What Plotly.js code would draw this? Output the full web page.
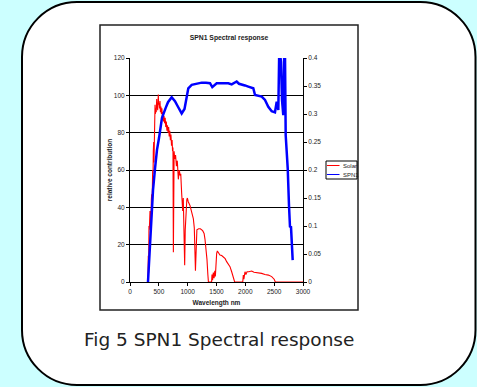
<!DOCTYPE html>
<html>
<head>
<meta charset="utf-8">
<script src="https://cdn.plot.ly/plotly-3.0.1.min.js"></script>
<style>
  html, body { margin: 0; padding: 0; background: #CCFFFF; }
  #chart { width: 477px; height: 387px; }
</style>
</head>
<body>
<div id="chart"></div>
<script>
// ---- Data ----
const solarWl = [300, 310, 317, 323, 329, 335, 347, 355, 364, 370, 376, 385, 393, 400, 404, 411, 416, 421, 428, 434, 440, 446, 455, 463, 468, 473, 480, 486, 491, 497,
  505, 512, 520, 528, 536, 545, 553, 562, 570, 580, 590, 600, 610, 620, 630, 640, 650, 660, 670, 680, 690, 700, 710, 720, 730, 738, 745, 752, 758, 765,
  775, 790, 805, 820, 838, 855, 870, 880, 895, 914, 924, 935, 948, 958, 971, 985, 995, 1010, 1040, 1070, 1098, 1115, 1125, 1135, 1145, 1160, 1190, 1220, 1260, 1285,
  1300, 1320, 1335, 1350, 1360, 1415, 1422, 1432, 1445, 1458, 1470, 1480, 1492, 1503, 1515, 1530, 1560, 1590, 1618, 1650, 1676, 1705, 1734, 1763, 1790, 1815,
  1955, 1965, 1975, 1985, 1994, 2010, 2030, 2060, 2110, 2150, 2200, 2283, 2340, 2400, 2457, 2500, 2520, 3000];
const solarVal = [0, 0, 14, 5, 30, 28, 38, 33, 31, 44, 47, 45, 60, 58, 70, 75, 64, 86, 82, 95, 90, 93, 91, 98, 93, 95, 92, 97, 100.5, 95,
  96, 93, 97, 91, 94, 90, 93, 88, 91, 86, 89, 85, 88, 83, 86, 81, 84, 80, 83, 78, 81, 76, 79, 73, 76, 70, 72, 16, 52, 70,
  66, 68, 62, 65, 55, 60, 57, 58, 48, 38, 45, 32, 9, 28, 38, 44, 45, 43, 41, 37.7, 34, 29, 18, 6, 15, 28, 28.5, 28.5, 27.5, 26,
  23, 18, 12, 4, 0, 0, 4, 1, 5, 2, 6, 3, 12, 15.4, 16.6, 16, 14.5, 14.2, 13.6, 12.5, 10.9, 9.5, 8.2, 5.5, 3, 0,
  0, 3.7, 1.5, 4.5, 5.5, 4, 5.5, 5.5, 5.9, 5.2, 5, 4.6, 4, 3.7, 2.9, 1.5, 0, 0];

const spn1Wl = [312, 318, 321, 347, 376, 399, 434, 468, 503, 555, 619, 659, 723, 780, 832, 896, 945, 983, 1011, 1070, 1144, 1243, 1318, 1387, 1427, 1503, 1595, 1705, 1763, 1803,
  1850, 1890, 1937, 1994, 2051, 2138, 2168, 2284, 2341, 2398, 2457, 2514, 2544, 2558, 2572, 2589, 2618, 2636, 2658, 2676, 2688, 2700, 2735, 2757, 2774, 2792, 2804, 2821];
const spn1Val = [0.000, 0.012, 0.025, 0.066, 0.120, 0.164, 0.203, 0.236, 0.257, 0.293, 0.311, 0.321, 0.330, 0.323, 0.313, 0.301, 0.309, 0.328, 0.346, 0.352, 0.354, 0.356, 0.356, 0.355, 0.348, 0.355, 0.355, 0.355, 0.353, 0.356,
  0.358, 0.354, 0.353, 0.351, 0.349, 0.346, 0.334, 0.331, 0.325, 0.313, 0.305, 0.303, 0.322, 0.311, 0.307, 0.42, 0.393, 0.325, 0.298, 0.42, 0.405, 0.262, 0.203, 0.137, 0.099, 0.098, 0.072, 0.039];

const leftTicks = [0, 20, 40, 60, 80, 100, 120];
const rightTicks = [0, 0.05, 0.1, 0.15, 0.2, 0.25, 0.3, 0.35, 0.4];
const rightTickText = ['0', '0.05', '0.1', '0.15', '0.2', '0.25', '0.3', '0.35', '0.4'];
const xTicks = [0, 500, 1000, 1500, 2000, 2500, 3000];
const seriesNames = ['Solar', 'SPN1'];

// ---- Layout geometry (pixels) ----
const W = 477, H = 387;
const M = { l: 130, r: 174, t: 58, b: 105 };
const PW = W - M.l - M.r, PH = H - M.t - M.b;
const px = x => (x - M.l) / PW;
const py = y => (H - M.b - y) / PH;

function roundRectPath(L, T, R, B, r) {
  const k = 0.5523 * r;
  const p = (x, y) => px(x).toFixed(5) + ',' + py(y).toFixed(5);
  return 'M' + p(L + r, T) + ' L' + p(R - r, T) +
    ' C' + p(R - r + k, T) + ' ' + p(R, T + r - k) + ' ' + p(R, T + r) +
    ' L' + p(R, B - r) +
    ' C' + p(R, B - r + k) + ' ' + p(R - r + k, B) + ' ' + p(R - r, B) +
    ' L' + p(L + r, B) +
    ' C' + p(L + r - k, B) + ' ' + p(L, B - r + k) + ' ' + p(L, B - r) +
    ' L' + p(L, T + r) +
    ' C' + p(L, T + r - k) + ' ' + p(L + r - k, T) + ' ' + p(L + r, T) + ' Z';
}

const chartFont = 'Liberation Sans, Arial, sans-serif';

const traces = [
  { x: solarWl, y: solarVal, name: seriesNames[0], type: 'scatter', mode: 'lines',
    line: { color: '#FF0000', width: 1.1 }, yaxis: 'y', showlegend: false },
  { x: spn1Wl, y: spn1Val, name: seriesNames[1], type: 'scatter', mode: 'lines',
    line: { color: '#0000FF', width: 2.5 }, yaxis: 'y2', showlegend: false }
];

const layout = {
  width: W, height: H,
  margin: M,
  paper_bgcolor: '#CCFFFF',
  plot_bgcolor: 'rgba(0,0,0,0)',
  showlegend: false,
  font: { family: chartFont, size: 6.5, color: '#222' },
  title: { text: '<b>SPN1 Spectral response</b>', font: { family: chartFont, size: 6.8, color: '#222' },
    xref: 'container', yref: 'container', x: 229 / W, y: 1 - 37.7 / H, xanchor: 'center', yanchor: 'middle' },
  xaxis: {
    range: [0, 3000], tickvals: xTicks, ticks: 'outside', ticklen: 3, tickcolor: '#000',
    showgrid: false, zeroline: false, showline: true, linecolor: '#000', linewidth: 1,
    tickfont: { family: chartFont, size: 6.5, color: '#222' },
    title: { text: '<b>Wavelength nm</b>', font: { family: chartFont, size: 6.5, color: '#222' }, standoff: 6 }
  },
  yaxis: {
    range: [0, 120], tickvals: leftTicks, ticks: 'outside', ticklen: 3, tickcolor: '#000',
    showgrid: true, gridcolor: '#000', gridwidth: 1, zeroline: false, showline: true, linecolor: '#000', linewidth: 1,
    tickfont: { family: chartFont, size: 6.5, color: '#222' },
    title: { text: '<b>relative contribution</b>', font: { family: chartFont, size: 6.5, color: '#222' }, standoff: 0 }
  },
  yaxis2: {
    range: [0, 0.4], tickvals: rightTicks, ticktext: rightTickText, overlaying: 'y', side: 'right',
    ticks: 'outside', ticklen: 3, tickcolor: '#000',
    showgrid: false, zeroline: false, showline: true, linecolor: '#000', linewidth: 1,
    tickfont: { family: chartFont, size: 6.5, color: '#222' }
  },
  shapes: [
    { type: 'path', xref: 'paper', yref: 'paper', layer: 'below',
      path: roundRectPath(22, 2, 475.5, 385, 55),
      fillcolor: '#FFFFFF', line: { color: '#000', width: 2 } },
    { type: 'rect', xref: 'paper', yref: 'paper', layer: 'below',
      x0: px(100), x1: px(358), y0: py(310), y1: py(25),
      fillcolor: '#FFFFFF', line: { color: '#222', width: 1.5 } },
    // legend box
    { type: 'rect', xref: 'paper', yref: 'paper', layer: 'above',
      x0: px(326), x1: px(357), y0: py(179), y1: py(161),
      fillcolor: '#FFFFFF', line: { color: '#000', width: 1 } },
    { type: 'line', xref: 'paper', yref: 'paper', layer: 'above',
      x0: px(327), x1: px(339.5), y0: py(165.5), y1: py(165.5), line: { color: '#FF0000', width: 1 } },
    { type: 'line', xref: 'paper', yref: 'paper', layer: 'above',
      x0: px(327), x1: px(339.5), y0: py(174.5), y1: py(174.5), line: { color: '#0000FF', width: 1 } }
  ],
  annotations: [
    { text: seriesNames[0], xref: 'paper', yref: 'paper', x: px(340.5), y: py(165.5), xanchor: 'left', yanchor: 'middle',
      showarrow: false, font: { family: chartFont, size: 6, color: '#222' } },
    { text: seriesNames[1], xref: 'paper', yref: 'paper', x: px(340.5), y: py(174.5), xanchor: 'left', yanchor: 'middle',
      showarrow: false, font: { family: chartFont, size: 6, color: '#222' } },
    { text: 'Fig 5 SPN1 Spectral response', xref: 'paper', yref: 'paper', x: px(218.5), y: py(339.5), xanchor: 'center', yanchor: 'middle',
      showarrow: false, font: { family: 'DejaVu Sans, Verdana, sans-serif', size: 18.5, color: '#222' } }
  ]
};

Plotly.newPlot('chart', traces, layout, { displayModeBar: false, staticPlot: true });
</script>
</body>
</html>
